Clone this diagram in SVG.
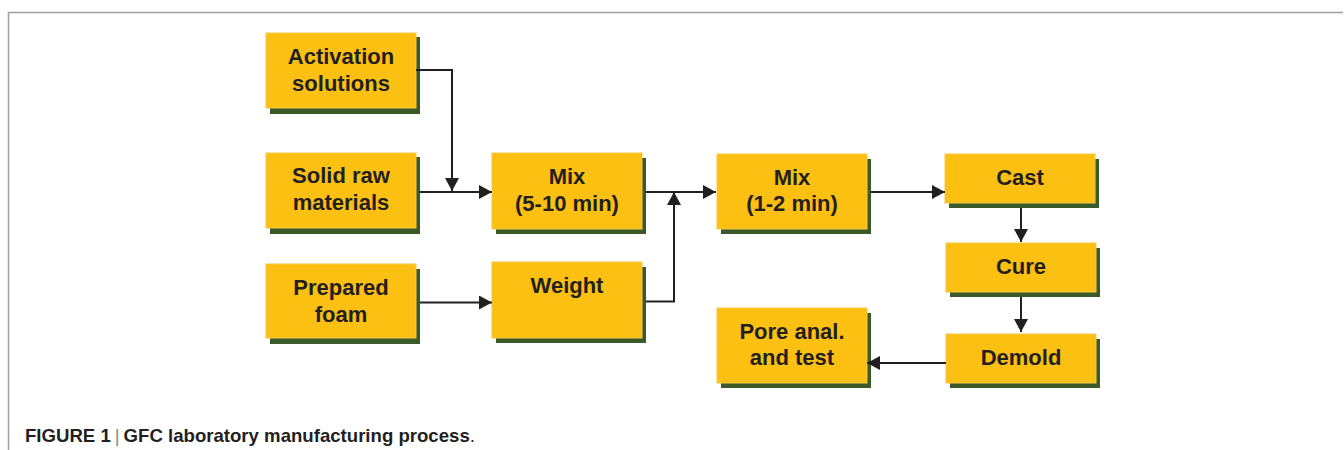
<svg xmlns="http://www.w3.org/2000/svg" width="1344" height="450" viewBox="0 0 1344 450">
<style>
.sh{fill:#3b5a2a}
.bx{fill:#fcc012;stroke:#f6c845;stroke-width:1}
.t{font-family:"Liberation Sans",Arial,sans-serif;font-weight:bold;font-size:22px;fill:#231f20;text-anchor:middle}
.c{fill:none;stroke:#231f20;stroke-width:2}
.cap{font-family:"Liberation Sans",Arial,sans-serif;font-size:18.6px;fill:#231f20}
</style>
<defs>
<marker id="ah" viewBox="0 0 13 14" refX="13" refY="7" markerWidth="13" markerHeight="14" markerUnits="userSpaceOnUse" orient="auto">
<path d="M0,0 L13,7 L0,14 Z" fill="#231f20"/>
</marker>
</defs>
<rect width="1344" height="450" fill="#fff"/>
<path d="M8.5,450 V12.5 H1343" fill="none" stroke="#a0a0a0" stroke-width="1.5"/>

<g id="activation">
<rect class="sh" x="270" y="37" width="150" height="77"/>
<rect class="bx" x="266" y="33" width="150" height="75"/>
<text class="t" x="341" y="64">Activation</text>
<text class="t" x="341" y="91">solutions</text>
</g>
<g id="solid">
<rect class="sh" x="270" y="157" width="150" height="77"/>
<rect class="bx" x="266" y="153" width="150" height="75"/>
<text class="t" x="341" y="183">Solid raw</text>
<text class="t" x="341" y="210">materials</text>
</g>
<g id="foam">
<rect class="sh" x="270" y="269" width="150" height="75"/>
<rect class="bx" x="266" y="264" width="150" height="74"/>
<text class="t" x="341" y="295">Prepared</text>
<text class="t" x="341" y="322">foam</text>
</g>
<g id="mix1">
<rect class="sh" x="496" y="158" width="150" height="76"/>
<rect class="bx" x="492" y="153" width="150" height="76"/>
<text class="t" x="567" y="184">Mix</text>
<text class="t" x="567" y="211">(5-10 min)</text>
</g>
<g id="weight">
<rect class="sh" x="496" y="267" width="150" height="76"/>
<rect class="bx" x="492" y="262" width="150" height="76"/>
<text class="t" x="567" y="293">Weight</text>
</g>
<g id="mix2">
<rect class="sh" x="721" y="159" width="150" height="75"/>
<rect class="bx" x="717" y="154" width="150" height="75"/>
<text class="t" x="792" y="185">Mix</text>
<text class="t" x="792" y="211">(1-2 min)</text>
</g>
<g id="cast">
<rect class="sh" x="949" y="159" width="150" height="49"/>
<rect class="bx" x="945" y="154" width="150" height="49"/>
<text class="t" x="1020" y="185">Cast</text>
</g>
<g id="cure">
<rect class="sh" x="950" y="248" width="150" height="49"/>
<rect class="bx" x="946" y="243" width="150" height="49"/>
<text class="t" x="1021" y="274">Cure</text>
</g>
<g id="demold">
<rect class="sh" x="950" y="339" width="150" height="49"/>
<rect class="bx" x="946" y="334" width="150" height="49"/>
<text class="t" x="1021" y="365">Demold</text>
</g>
<g id="pore">
<rect class="sh" x="721" y="313" width="150" height="75"/>
<rect class="bx" x="717" y="308" width="150" height="75"/>
<text class="t" x="792" y="339">Pore anal.</text>
<text class="t" x="792" y="365">and test</text>
</g>

<g id="connectors">
<path class="c" d="M416,70 H452 V191" marker-end="url(#ah)"/>
<path class="c" d="M420,192 H492" marker-end="url(#ah)"/>
<path class="c" d="M420,302.5 H492" marker-end="url(#ah)"/>
<path class="c" d="M646,192 H716" marker-end="url(#ah)"/>
<path class="c" d="M646,301.5 H674 V192" marker-end="url(#ah)"/>
<path class="c" d="M871,192 H945" marker-end="url(#ah)"/>
<path class="c" d="M1021,208 V242" marker-end="url(#ah)"/>
<path class="c" d="M1021,297 V332" marker-end="url(#ah)"/>
<path class="c" d="M946,363 H867" marker-end="url(#ah)"/>
</g>

<text class="cap" x="25" y="442"><tspan font-weight="bold">FIGURE 1</tspan><tspan fill="#888" dx="4">|</tspan><tspan font-weight="bold" dx="4">GFC laboratory manufacturing process</tspan>.</text>
</svg>
